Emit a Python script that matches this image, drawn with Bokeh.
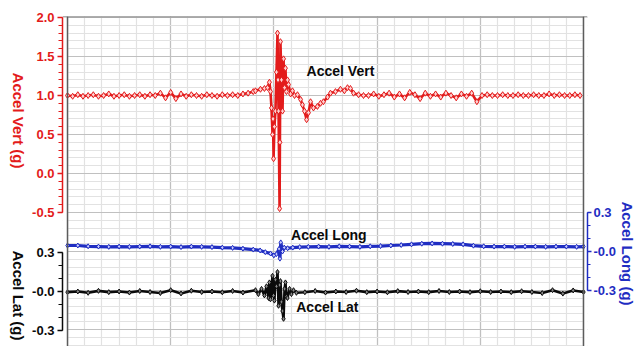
import math
from bokeh.plotting import figure
from bokeh.models import (Range1d, LinearAxis, FixedTicker, CustomJSTickFormatter, Span,
                          BoxAnnotation)
from bokeh.layouts import column
from bokeh.embed import file_html
from bokeh.resources import INLINE
from bokeh.core.properties import value

# ---------------- data (time in s, accelerations in g) ----------------
VERT_X = [0.0, 0.3, 0.6, 0.9, 1.2, 1.5, 1.8, 2.1, 2.4, 2.7, 3.0, 3.3, 3.6, 3.9, 4.2, 4.5, 4.8, 5.1,
          5.4, 5.7, 6.0, 6.3, 6.6, 6.9, 7.2, 7.5, 7.8, 8.1, 8.4, 8.7, 9.0, 9.3, 9.6, 9.9, 10.2, 10.5, 10.8,
          10.93, 11.22, 11.45, 11.63, 11.74, 11.80, 11.86, 11.92, 11.95, 11.98, 12.03, 12.09, 12.15,
          12.21, 12.24, 12.27, 12.33, 12.35, 12.38, 12.44, 12.50, 12.56, 12.62, 12.67, 12.73, 12.79,
          12.85, 12.97, 13.08, 13.20, 13.37, 13.55, 13.66, 13.78, 13.90, 14.01, 14.13, 14.30, 14.53,
          14.71, 14.88, 15.12, 15.29, 15.58, 15.87, 16.10, 16.28, 16.45, 16.63, 16.92, 17.21,
          17.5, 17.8, 18.1, 18.4, 18.7, 19.0, 19.3, 19.6, 19.9, 20.2, 20.5, 20.8, 21.1, 21.4, 21.7,
          22.0, 22.3, 22.6, 22.9, 23.2, 23.5, 23.8, 24.1, 24.4, 24.7, 25.0, 25.3, 25.6, 25.9, 26.2,
          26.5, 26.8, 27.1, 27.4, 27.7, 28.0, 28.3, 28.6, 28.9, 29.2, 29.5, 29.8]
VERT_Y = [1.00, 0.99, 1.01, 0.99, 1.00, 1.01, 0.99, 1.00, 1.02, 0.99, 1.00, 1.01, 0.99, 1.00, 1.01, 0.99,
          1.01, 1.00, 1.03, 0.97, 1.04, 0.96, 1.02, 0.99, 1.01, 1.00, 0.99, 1.01, 1.00, 0.99, 1.01, 1.00,
          1.01, 1.00, 1.02, 1.03, 1.05,
          1.06, 1.08, 1.09, 1.10, 1.17, 1.05, 0.84, 0.50, 0.70, 0.19, 0.60, 0.80, 1.30, 1.80, 1.20, 0.80,
          -0.45, 0.40, 1.69, 1.20, 0.80, 1.47, 1.10, 1.35, 1.05, 1.20, 1.14, 1.02, 1.06, 1.00, 1.01, 0.95,
          0.88, 0.80, 0.69, 0.78, 0.92, 0.84, 0.86, 0.90, 0.92, 0.98, 1.03, 1.05, 1.08, 1.06, 1.10, 1.09,
          1.03, 1.01, 1.00,
          1.00, 1.02, 0.99, 1.01, 1.03, 0.98, 1.02, 0.97, 1.04, 1.01, 0.96, 1.03, 0.99, 1.02, 0.98, 1.03,
          1.00, 0.97, 1.02, 0.99, 1.03, 0.92, 1.00, 1.01, 1.00, 1.00, 1.01, 1.00, 1.00, 1.01, 1.00, 1.00,
          1.01, 1.00, 1.00, 1.02, 1.00, 1.01, 1.00, 1.00, 1.01, 1.00]

LONG_X = [0.0, 0.6, 1.2, 1.8, 2.4, 3.0, 3.6, 4.2, 4.8, 5.4, 6.0, 6.6, 7.2, 7.8, 8.4, 9.0, 9.6, 10.2, 10.8,
          11.2, 11.5, 11.8, 12.0, 12.15, 12.3, 12.35, 12.4, 12.5, 12.6, 12.8, 13.1, 13.5, 14.0,
          14.6, 15.2, 15.8, 16.4, 17.0, 17.6, 18.2, 18.8, 19.4, 20.0, 20.6, 21.2, 21.8, 22.4, 23.0,
          23.6, 24.2, 24.8, 25.4, 26.0, 26.6, 27.2, 27.8, 28.4, 29.0, 29.6, 30.0]
LONG_Y = [0.046, 0.046, 0.040, 0.038, 0.036, 0.038, 0.036, 0.038, 0.040, 0.036, 0.038, 0.034, 0.038,
          0.036, 0.034, 0.030, 0.028, 0.022, 0.015,
          0.008, -0.005, -0.015, -0.030, -0.020, 0.020, -0.055, 0.070, 0.000, 0.030, 0.025, 0.030,
          0.034, 0.036,
          0.038, 0.036, 0.040, 0.038, 0.036, 0.040, 0.042, 0.046, 0.050, 0.055, 0.060, 0.062, 0.060,
          0.058, 0.055, 0.045, 0.040, 0.038, 0.038, 0.036, 0.038, 0.038, 0.036, 0.038, 0.038, 0.036,
          0.038]

LAT_X = [0.0, 0.6, 1.2, 1.8, 2.4, 3.0, 3.6, 4.2, 4.8, 5.4, 6.0, 6.6, 7.2, 7.8, 8.4, 9.0, 9.6, 10.2,
         10.93, 11.10, 11.28, 11.45, 11.57, 11.69, 11.74, 11.80, 11.92, 11.98, 12.03, 12.09, 12.15,
         12.21, 12.27, 12.33, 12.38, 12.44, 12.50, 12.56, 12.62, 12.67, 12.73, 12.79, 12.91, 13.02,
         13.14, 13.31,
         13.8, 14.4, 15.0, 15.6, 16.2, 16.8, 17.4, 18.0, 18.6, 19.2, 19.8, 20.4, 21.0, 21.6, 22.2,
         22.8, 23.4, 24.0, 24.6, 25.2, 25.8, 26.4, 27.0, 27.6, 28.2, 28.8, 29.4, 30.0]
LAT_Y = [-0.005, 0.000, -0.010, 0.005, -0.005, 0.000, -0.008, 0.004, -0.004, -0.012, 0.010, -0.015,
         0.006, -0.004, 0.000, -0.006, 0.004, -0.008,
         0.01, -0.02, 0.02, -0.03, 0.04, -0.05, 0.07, -0.06, 0.12, -0.03, -0.07, 0.09, 0.04, 0.15,
         -0.11, 0.05, 0.08, -0.08, -0.15, -0.21, 0.02, 0.07, -0.04, -0.05, 0.02, -0.02, 0.01, -0.01,
         -0.006, 0.004, -0.008, 0.000, -0.004, 0.006, -0.005, 0.000, -0.006, 0.003, -0.004, 0.000,
         -0.005, 0.004, -0.004, 0.000, -0.005, 0.002, -0.004, 0.000, -0.005, 0.002, -0.004, -0.012,
         0.010, -0.016, 0.008, -0.004]

VERT_TICKS = [-0.5, 0.0, 0.5, 1.0, 1.5, 2.0]
SMALL_TICKS = [-0.3, 0.0, 0.3]
SERIES_LABELS = ["Accel Vert", "Accel Long", "Accel Lat"]
AXIS_TITLES = ["Accel Vert (g)", "Accel Long (g)", "Accel Lat (g)"]
LABEL_X = [13.9, 13.0, 13.3]
LABEL_Y = [1.32, 0.13, -0.12]

# ---------------- styling / layout ----------------
FONT = "Liberation Sans"
RED = "#E31B1B"
BLUE = "#1F2DC2"
BLACK = "#0A0A0A"
W, H = 636, 346
BORDER_L, BORDER_R = 62, 49
TOP = 16                       # top of plot box (page px)

X0, X1 = 0.0, 30.0
X_PPU = 17.2
X_START, X_END = X0 - 5.0 / X_PPU, X1 + 4.0 / X_PPU   # axes sit slightly outside the plot box

# vertical placement (page px) of each axis band
VERT_Y0, VERT_Y1 = 17, 212     # 2.0 .. -0.5
LONG_Y0, LONG_Y1 = 212, 290    # 0.3 .. -0.3
LAT_Y0, LAT_Y1 = 252, 330      # 0.3 .. -0.3
TITLE_LEFT_X, TITLE_RIGHT_X = 18, 627
TITLE_CENTERS = [120, (LONG_Y0 + LONG_Y1) / 2 + 2, (LAT_Y0 + LAT_Y1) / 2 + 4]

vert_ppu = (VERT_Y1 - VERT_Y0) / 2.5
long_ppu = (LONG_Y1 - LONG_Y0) / 0.6
lat_ppu = (LAT_Y1 - LAT_Y0) / 0.6

vert_minor = [round(-0.5 + 0.1 * i, 1) for i in range(26)]
small_minor = [round(-0.3 + 0.1 * i, 1) for i in range(7)]
fmt_vert = CustomJSTickFormatter(code="return tick.toFixed(1);")
fmt_small = CustomJSTickFormatter(code="return (Math.abs(tick) < 1e-9) ? '-0.0' : tick.toFixed(1);")


def fig(yr, top, bottom, transparent=True, left=BORDER_L, right=BORDER_R, xr=None):
    kw = dict(width=W, height=H, x_range=xr if xr is not None else Range1d(X_START, X_END), y_range=yr,
              output_backend="svg", toolbar_location=None,
              x_axis_location=None, y_axis_location=None,
              min_border_left=left, min_border_right=right,
              min_border_top=top, min_border_bottom=H - bottom)
    if transparent:
        kw.update(background_fill_color=None, border_fill_color=None)
    p = figure(**kw)
    p.outline_line_color = None
    return p


def style_axis(ax, color):
    ax.axis_line_color = color
    ax.axis_line_width = 1.5
    ax.major_tick_line_color = color
    ax.minor_tick_line_color = color
    ax.major_tick_line_width = 1.5
    ax.minor_tick_line_width = 1.2
    ax.major_tick_out = 5
    ax.major_tick_in = 0
    ax.minor_tick_out = 4
    ax.minor_tick_in = 0
    ax.major_label_text_color = color
    ax.major_label_text_font = FONT
    ax.major_label_text_font_style = "bold"
    ax.major_label_text_font_size = "13px"
    ax.major_label_standoff = 3


def series_label(p, i, **kw):
    p.text(x=LABEL_X[i:i + 1], y=LABEL_Y[i:i + 1], text=SERIES_LABELS[i:i + 1], text_font=value(FONT),
           text_font_style="bold", text_font_size="14px", text_baseline="middle", text_color=BLACK, **kw)


# ---------------- base figure: plot box, grid and all three traces ----------------
frame_h = H - TOP
vert_top = 2.0 + (VERT_Y0 - TOP) / vert_ppu
p1 = fig(Range1d(vert_top - frame_h / vert_ppu, vert_top), TOP, H, transparent=False)
long_zero = LONG_Y0 + 0.3 * long_ppu - TOP
lat_zero = LAT_Y0 + 0.3 * lat_ppu - TOP
p1.extra_y_ranges = {
    "long": Range1d(-(frame_h - long_zero) / long_ppu, long_zero / long_ppu),
    "lat": Range1d(-(frame_h - lat_zero) / lat_ppu, lat_zero / lat_ppu),
}

p1.xgrid.ticker = FixedTicker(ticks=[0, 6, 12, 18, 24, 30], minor_ticks=list(range(31)))
p1.ygrid.ticker = FixedTicker(ticks=[round(-2.0 + 0.5 * i, 1) for i in range(9)],
                              minor_ticks=[round(-2.2 + 0.1 * i, 1) for i in range(43)])
p1.grid.grid_line_color = "#c0c0c0"
p1.grid.grid_line_width = 1.2
p1.grid.minor_grid_line_color = "#e2e2e2"
p1.grid.minor_grid_line_width = 1.2

p1.add_layout(BoxAnnotation(right=X0, fill_color="white", fill_alpha=1, line_color=None, level="underlay"))
p1.add_layout(BoxAnnotation(left=X1, fill_color="white", fill_alpha=1, line_color=None, level="underlay"))
for loc in (X0, X1):
    p1.add_layout(Span(location=loc, dimension="height", line_color="#5c5c5c", line_width=1.5))
p1.add_layout(Span(location=vert_top, dimension="width", line_color="#5c5c5c", line_width=1.5))

p1.line(VERT_X, VERT_Y, line_color=RED, line_width=2.6)
p1.scatter(VERT_X, VERT_Y, marker="diamond", size=6, line_color=RED, fill_color="#ffd0d0", line_width=1)
p1.line(LONG_X, LONG_Y, y_range_name="long", line_color=BLUE, line_width=3.2)
p1.scatter(LONG_X, LONG_Y, y_range_name="long", marker="diamond", size=5, line_color=BLUE,
           fill_color="#c8ccff", line_width=1)
p1.line(LAT_X, LAT_Y, y_range_name="lat", line_color=BLACK, line_width=2.6)
p1.scatter(LAT_X, LAT_Y, y_range_name="lat", marker="diamond", size=5, line_color=BLACK,
           fill_color="#888888", line_width=1)

# ---------------- overlays: one axis band each (transparent) ----------------
pv = fig(Range1d(-0.5, 2.0), VERT_Y0, VERT_Y1)
vax = LinearAxis(ticker=FixedTicker(ticks=VERT_TICKS, minor_ticks=vert_minor), formatter=fmt_vert)
style_axis(vax, RED)
pv.add_layout(vax, "left")
series_label(pv, 0)

pl = fig(Range1d(-0.3, 0.3), LONG_Y0, LONG_Y1)
lax = LinearAxis(ticker=FixedTicker(ticks=SMALL_TICKS, minor_ticks=small_minor), formatter=fmt_small)
style_axis(lax, BLUE)
lax.major_tick_out = 4
lax.minor_tick_out = 3
lax.major_label_standoff = 2
pl.add_layout(lax, "right")
series_label(pl, 1)

pt = fig(Range1d(-0.3, 0.3), LAT_Y0, LAT_Y1)
tax = LinearAxis(ticker=FixedTicker(ticks=SMALL_TICKS, minor_ticks=small_minor), formatter=fmt_small)
style_axis(tax, BLACK)
pt.add_layout(tax, "left")
series_label(pt, 2)

# axis titles (read top-to-bottom), placed in page-pixel space on a full-page transparent layer
ptt = fig(Range1d(H, 0), 0, H, left=0, right=0, xr=Range1d(0, W))
if "frame_align" in ptt.properties():
    ptt.frame_align = False
ptt.text(x=[TITLE_LEFT_X, TITLE_RIGHT_X, TITLE_LEFT_X], y=TITLE_CENTERS, text=AXIS_TITLES,
         text_color=[RED, BLUE, BLACK], angle=-math.pi / 2, text_align="center",
         text_baseline="middle", text_font=value(FONT), text_font_style="bold",
         text_font_size="15px")

for p in (pv, pl, pt, ptt):
    p.grid.visible = False
    p.margin = (-H, 0, 0, 0)

layout = column(p1, pv, pl, pt, ptt)
open("out.html", "w").write(file_html(layout, INLINE))
